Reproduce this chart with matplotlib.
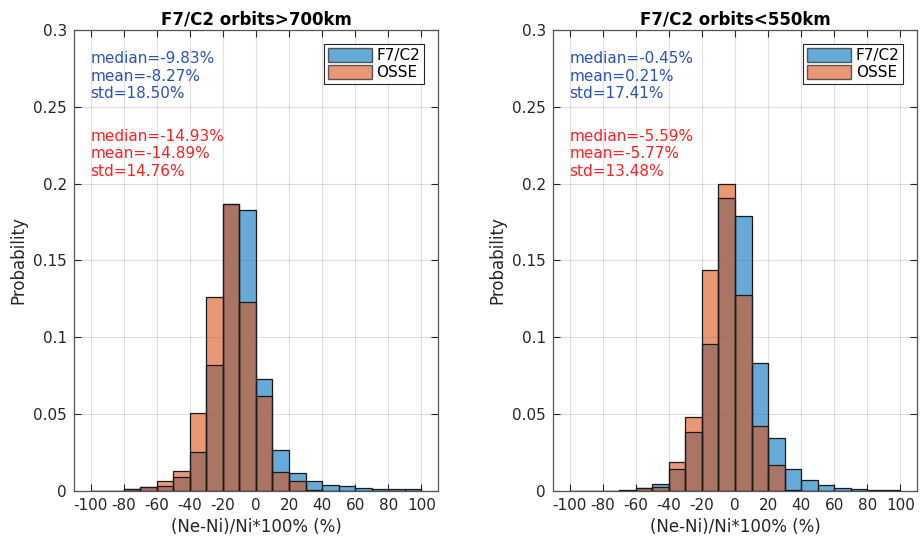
import matplotlib
matplotlib.use("Agg")
import matplotlib.pyplot as plt
import numpy as np
from matplotlib.patches import Patch

# bin edges shared by every histogram (-100 .. 100 %, width 10)
bin_edges = np.arange(-100, 101, 10)

# probabilities per bin
high_f7c2 = [0.0, 0.0, 0.001, 0.0024, 0.0035, 0.009, 0.0253, 0.0818, 0.1868, 0.1829,
             0.0727, 0.0264, 0.0115, 0.0067, 0.0039, 0.003, 0.002, 0.0015, 0.0015, 0.001]
high_osse = [0.0, 0.0, 0.001, 0.0024, 0.0063, 0.0132, 0.051, 0.126, 0.187, 0.1227,
             0.0615, 0.0123, 0.0063, 0.0004, 0.0, 0.0, 0.0, 0.0, 0.0, 0.0]
low_f7c2 = [0.0, 0.0002, 0.0002, 0.0005, 0.0017, 0.0048, 0.014, 0.0383, 0.0959, 0.1907,
            0.1792, 0.0835, 0.0344, 0.0141, 0.0069, 0.0037, 0.0022, 0.0011, 0.0009, 0.0004]
low_osse = [0.0, 0.0, 0.0, 0.0, 0.0017, 0.0026, 0.0186, 0.048, 0.1439, 0.2,
            0.1275, 0.0424, 0.0169, 0.0009, 0.0002, 0.0, 0.0, 0.0, 0.0, 0.0]

titles = ["F7/C2 orbits>700km", "F7/C2 orbits<550km"]
stats_f7c2 = [["median=-9.83%", "mean=-8.27%", "std=18.50%"],
              ["median=-0.45%", "mean=0.21%", "std=17.41%"]]
stats_osse = [["median=-14.93%", "mean=-14.89%", "std=14.76%"],
              ["median=-5.59%", "mean=-5.77%", "std=13.48%"]]
series_names = ["F7/C2", "OSSE"]
x_ticks = np.arange(-100, 101, 20)
y_ticks = np.arange(0, 0.301, 0.05)

BLUE = "#0072BD"
ORANGE = "#D95319"
DARK = "#262626"

plt.rcParams["font.family"] = "DejaVu Sans"
plt.rcParams["axes.unicode_minus"] = False

fig = plt.figure(figsize=(9.21, 5.38), dpi=100)
positions = [[0.0803, 0.0874, 0.3952, 0.8569], [0.6004, 0.0874, 0.3952, 0.8569]]
panels = [(high_f7c2, high_osse), (low_f7c2, low_osse)]

for i, (f7, osse) in enumerate(panels):
    ax = fig.add_axes(positions[i])
    ax.bar(bin_edges[:-1], f7, width=10, align="edge", color=BLUE, alpha=0.6,
           edgecolor="none", zorder=2)
    ax.bar(bin_edges[:-1], osse, width=10, align="edge", color=ORANGE, alpha=0.6,
           edgecolor="none", zorder=3)
    ax.bar(bin_edges[:-1], f7, width=10, align="edge", fill=False,
           edgecolor="#1a1a1a", linewidth=0.9, zorder=4)
    ax.bar(bin_edges[:-1], osse, width=10, align="edge", fill=False,
           edgecolor="#1a1a1a", linewidth=0.9, zorder=4)

    ax.set_xlim(-110, 110)
    ax.set_ylim(0, 0.3)
    ax.set_xticks(x_ticks)
    ax.set_yticks(y_ticks)
    ax.set_xticklabels([f"{t:d}" for t in x_ticks])
    ax.set_yticklabels([f"{t:g}" for t in np.round(y_ticks, 2)])
    ax.tick_params(direction="in", top=True, right=True, length=5, width=0.8,
                   labelsize=11, colors=DARK, pad=5)
    ax.grid(True, color="#000000", alpha=0.12, linewidth=0.8, zorder=0)
    ax.set_axisbelow(True)
    for sp in ax.spines.values():
        sp.set_color("#555555")
        sp.set_linewidth(0.9)

    ax.set_title(titles[i], fontsize=12, fontweight="bold", color="black", pad=4)
    ax.set_xlabel("(Ne-Ni)/Ni*100% (%)", fontsize=12, color=DARK, labelpad=4)
    ax.set_ylabel("Probability", fontsize=12, color=DARK, labelpad=4)

    ax.text(-100, 0.27, "\n".join(stats_f7c2[i]), color="#2a52b4", fontsize=11,
            va="center", ha="left", zorder=5)
    ax.text(-100, 0.2195, "\n".join(stats_osse[i]), color="#ff2020", fontsize=11,
            va="center", ha="left", zorder=5)

    handles = [Patch(facecolor=BLUE, alpha=0.6, edgecolor="black"),
               Patch(facecolor=ORANGE, alpha=0.6, edgecolor="black")]
    leg = ax.legend(handles, series_names, loc="upper right", fontsize=11,
                    fancybox=False, framealpha=1, edgecolor=DARK,
                    handlelength=2.9, handleheight=1.05, handletextpad=0.3,
                    borderpad=0.25, labelspacing=0.12, borderaxespad=0.9)
    leg.get_frame().set_linewidth(0.8)
    for h in leg.legend_handles:
        h.set_edgecolor("black")

fig.savefig("out.png", dpi=100)
